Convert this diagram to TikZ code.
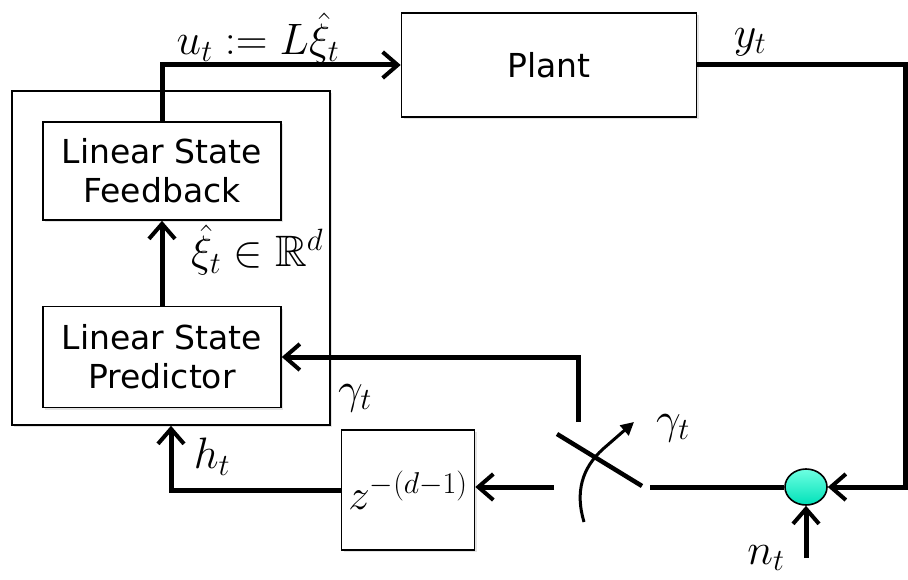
\RequirePackage{fix-cm}
\documentclass[tikz,border=0pt]{standalone}
\usepackage{amsmath}
\usepackage{amssymb}
\usepackage{fontspec}
\usepackage{tikz}
\usetikzlibrary{arrows.meta,shapes.geometric,shadows}
\newfontfamily\boxfont{DejaVu Sans}

\begin{document}
\begin{tikzpicture}[x=1pt, y=-1pt,
    block/.style={draw, line width=1.6pt, inner sep=0pt, fill=white, drop shadow={opacity=0.22, shadow xshift=2pt, shadow yshift=-2pt}},
    flow/.style={line width=5pt, -{Straight Barb[length=15pt, width=26pt, line width=4pt]}},
    wire/.style={line width=5pt},
    lbl/.style={font=\fontsize{44}{50}\selectfont},
    txt/.style={font=\boxfont\fontsize{33}{39}\selectfont, align=center}]
    \useasboundingbox (0,0) rectangle (908,580);

    \node[block, minimum width=318pt, minimum height=334pt] (outer) at (171,258) {};
    \node[block, txt, minimum width=238pt, minimum height=98pt] (feedback) at (162,171) {Linear State\\Feedback};
    \node[block, txt, minimum width=238pt, minimum height=101pt] (predictor) at (162,357) {Linear State\\Predictor};
    \node[block, txt, minimum width=295pt, minimum height=104pt] (plant) at (549,65) {Plant};
    \node[block, minimum width=133pt, minimum height=120pt, font=\fontsize{43}{46}\selectfont] (delay) at (408,490) {$z^{-(d-1)}$};
    \node[ellipse, draw, line width=1.6pt, minimum width=42pt, minimum height=36pt, inner sep=0pt,
          top color={rgb,255:red,110;green,255;blue,225}, bottom color={rgb,255:red,0;green,225;blue,185}] (sum) at (806,487) {};

    \coordinate (swin) at (650,487);
    \coordinate (swout) at (554,487);
    \coordinate (swtop) at (578,422);
    \coordinate (ycorner) at (905,487);
    \coordinate (noise) at (806,558);

    \draw[flow] (feedback.north) |- (plant.west);
    \draw[flow] (predictor.north) -- (feedback.south);
    \draw[flow] (plant.east) -| (ycorner) -- (sum.east);
    \draw[flow] (noise) -- (sum.south);
    \draw[wire] (swin) -- (sum.west);
    \draw[flow] (swout) -- (swout -| delay.east);
    \draw[flow] (delay.west) -| (outer.south);
    \draw[flow] (swtop) |- (predictor.east);

    % switch
    \draw[line width=4.5pt] (557,434) -- (642,486);
    \draw[line width=3pt, -{Triangle[length=13pt, width=13pt]}] (584,522) .. controls (575,492) and (582,468) .. (603,449) -- (634,422);

    \node[lbl] (ulabel) at (258,38) {$u_t := L\hat{\xi}_t$};
    \node[lbl] (xilabel) at (257,250) {$\hat{\xi}_t \in \mathbb{R}^d$};
    \node[lbl] (ylabel) at (750,42) {$y_t$};
    \node[lbl] (gammaA) at (355,398) {$\gamma_t$};
    \node[lbl] (gammaB) at (673,428) {$\gamma_t$};
    \node[lbl] (hlabel) at (212,457) {$h_t$};
    \node[lbl] (nlabel) at (766,558) {$n_t$};
\end{tikzpicture}
\end{document}
